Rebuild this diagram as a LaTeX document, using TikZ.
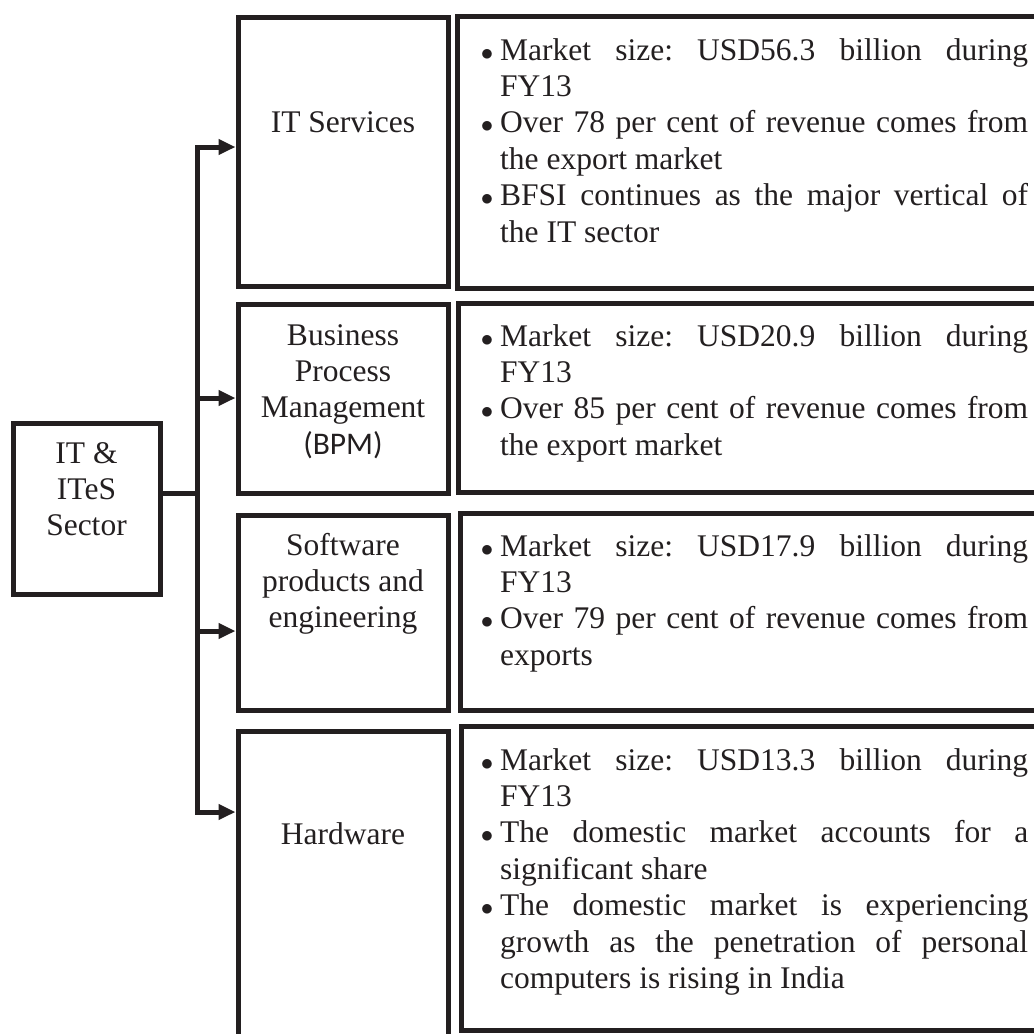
\documentclass[tikz,border=0pt]{standalone}
\usepackage{fontspec}
\setmainfont{Liberation Serif}
\newfontfamily\bpmfont{Carlito}
\usepackage{graphicx}
\usetikzlibrary{arrows.meta}
\definecolor{ink}{RGB}{35,31,32}
\newcommand{\mybul}{\llap{$\bullet$\hspace{7pt}}}
\newcommand{\itm}[1]{\par\noindent\mybul #1}
\newcommand{\blist}[1]{\parbox[t]{528pt}{\frenchspacing\tolerance=10000\hyphenpenalty=10000\relax #1}}
\begin{document}
\begin{tikzpicture}[x=1pt,y=-1pt,
  every node/.style={text=ink, font=\fontsize{31.5}{36.4}\selectfont},
  box/.style 2 args={draw=ink, line width=5pt, inner sep=0pt, minimum width=#1, minimum height=#2},
  lbl/.style={inner sep=0pt, anchor=base},
  txt/.style={inner sep=0pt, anchor=base west},
  link/.style={draw=ink, line width=5pt, line join=miter},
  arr/.style={link, -{Triangle[length=17pt,width=15pt]}}
]
\useasboundingbox (0,0) rectangle (1034,1034);
\clip (0,0) rectangle (1034,1034);

% central box
\node[box={147pt}{171pt}] (sec) at (86.5,508.5) {};
\node[lbl] (sect) at (86.5,463) {\begin{tabular}[t]{@{}c@{}}IT \&\\ITeS\\Sector\end{tabular}};

% left category boxes
\node[box={210pt}{269pt}] (b1) at (343,151.5) {};
\node[box={210pt}{189pt}] (b2) at (343,398.5) {};
\node[box={210pt}{195pt}] (b3) at (343,612.5) {};
\node[box={210pt}{339pt}] (b4) at (343,900.5) {};

\node[lbl] (l1) at (343,132) {IT Services};
\node[lbl] (l2) at (343,345) {\begin{tabular}[t]{@{}c@{}}Business\\Process\\Management\\{\bpmfont (BPM)}\end{tabular}};
\node[lbl] (l3) at (343,555) {\begin{tabular}[t]{@{}c@{}}Software\\products and\\engineering\end{tabular}};
\node[lbl] (l4) at (343,844) {Hardware};

% right description boxes
\node[box={603pt}{272pt}] (r1) at (758.5,152) {};
\node[box={602pt}{189pt}] (r2) at (759,397.5) {};
\node[box={600pt}{197pt}] (r3) at (760,611.5) {};
\node[box={599pt}{304pt}] (r4) at (760.5,878) {};

\node[txt] (t1) at (500,60) {\blist{%
\itm{Market size: USD56.3 billion during\linebreak FY13}%
\itm{Over 78 per cent of revenue comes from\linebreak the export market}%
\itm{BFSI continues as the major vertical of\linebreak the IT sector}}};
\node[txt] (t2) at (500,346) {\blist{%
\itm{Market size: USD20.9 billion during\linebreak FY13}%
\itm{Over 85 per cent of revenue comes from\linebreak the export market}}};
\node[txt] (t3) at (500,556) {\blist{%
\itm{Market size: USD17.9 billion during\linebreak FY13}%
\itm{Over 79 per cent of revenue comes from\linebreak exports}}};
\node[txt] (t4) at (500,770) {\blist{%
\itm{Market size: USD13.3 billion during\linebreak FY13}%
\itm{The domestic market accounts for a\linebreak significant share}%
\itm{The domestic market is experiencing\linebreak growth as the penetration of personal\linebreak computers is rising in India}}};

% connectors
\coordinate (j) at (197,493);
\coordinate (k1) at (197,147);
\coordinate (k2) at (197,398);
\coordinate (k3) at (197,631);
\coordinate (k4) at (197,812);
\draw[link] (sec.east |- j) -- (j);
\draw[arr] (j) -- (k1) -- (k1 -| b1.west);
\draw[arr] (j) -- (k4) -- (k4 -| b4.west);
\draw[arr] (k2) -- (k2 -| b2.west);
\draw[arr] (k3) -- (k3 -| b3.west);
\end{tikzpicture}
\end{document}
